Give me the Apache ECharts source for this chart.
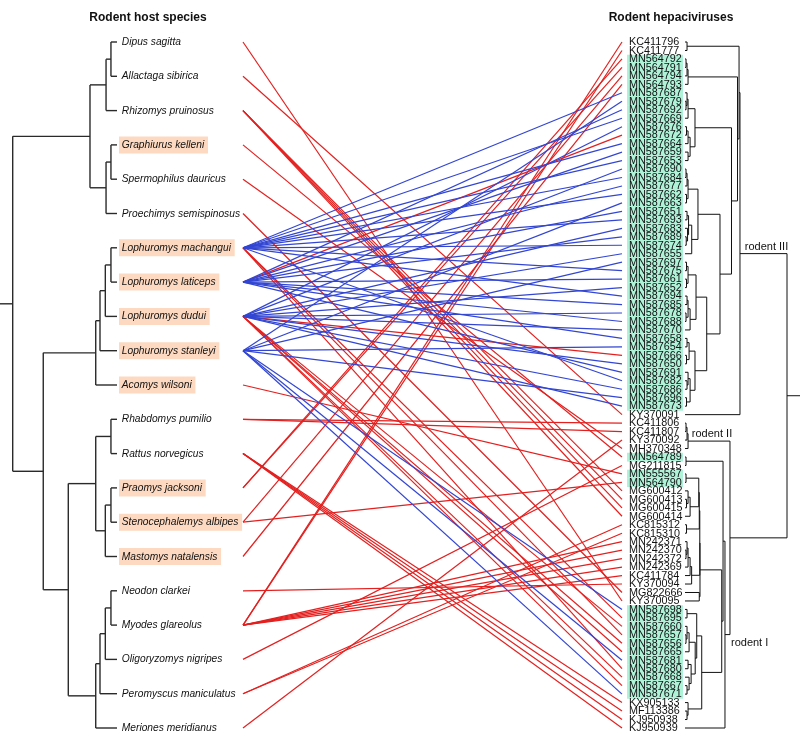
<!DOCTYPE html>
<html><head><meta charset="utf-8">
<script src="https://cdn.jsdelivr.net/npm/echarts@6/dist/echarts.min.js"></script>
<style>html,body{margin:0;padding:0;background:#fff}#c{width:800px;height:736px}</style>
</head><body><div id="c"></div>
<script>
// ---------------- DATA ----------------
const hosts = ['Dipus sagitta','Allactaga sibirica','Rhizomys pruinosus','Graphiurus kelleni','Spermophilus dauricus',
  'Proechimys semispinosus','Lophuromys machangui','Lophuromys laticeps','Lophuromys dudui','Lophuromys stanleyi',
  'Acomys wilsoni','Rhabdomys pumilio','Rattus norvegicus','Praomys jacksoni','Stenocephalemys albipes',
  'Mastomys natalensis','Neodon clarkei','Myodes glareolus','Oligoryzomys nigripes','Peromyscus maniculatus','Meriones meridianus'];
const hostHighlight = ['Graphiurus kelleni','Lophuromys machangui','Lophuromys laticeps','Lophuromys dudui',
  'Lophuromys stanleyi','Acomys wilsoni','Praomys jacksoni','Stenocephalemys albipes','Mastomys natalensis'];

const viruses = ['KC411796','KC411777','MN564792','MN564791','MN564794','MN564793','MN587687','MN587679','MN587692','MN587669',
  'MN587676','MN587672','MN587664','MN587659','MN587653','MN587690','MN587684','MN587677','MN587662','MN587663',
  'MN587651','MN587693','MN587683','MN587689','MN587674','MN587655','MN587697','MN587675','MN587661','MN587652',
  'MN587694','MN587685','MN587678','MN587688','MN587670','MN587658','MN587654','MN587666','MN587650','MN587691',
  'MN587682','MN587686','MN587696','MN587673','KY370091','KC411806','KC411807','KY370092','MH370348','MN564789',
  'MG211815','MN555567','MN564790','MG600412','MG600413','MG600415','MG600414','KC815312','KC815310','MN242371',
  'MN242370','MN242372','MN242369','KC411784','KY370094','MG822666','KY370095','MN587698','MN587695','MN587660',
  'MN587657','MN587656','MN587665','MN587681','MN587680','MN587668','MN587667','MN587671','KX905133','MF113386',
  'KJ950938','KJ950939'];
const virusHighlight = viruses.filter(v => /^MN5876|^MN5647|^MN555567/.test(v));

// host tree: [node depth (root 0, tips 1), children...]; leaves = host index
const hostTree = [0,
  [0.741, [0.895, [0.942, 0, 1], 2], [0.895, [0.942, 3, 4], 5]],
  [0.293,
    [0.796, [0.837, [0.888, [0.942, 6, 7], 8], 9], 10],
    [0.533,
      [0.796, [0.942, 11, 12], [0.888, [0.942, 13, 14], 15]],
      [0.796, [0.837, [0.888, [0.942, 16, 17], 18], 19], 20]]]];

// virus tree: [node height (tips 0, root 1), children...]; leaves = virus index
const MN5647clade = [0.03, [0.02, [0.01, 2, 3], 4], 5];
const cladeG1 = [0.098, [0.03, [0.02, 6, [0.01, 7, 8]], 9], [0.05, [0.03, [0.015, 10, 11], 12], [0.03, 13, 14]]];
const cladeG2a = [0.127, [0.03, [0.02, [0.01, 15, 16], 17], [0.015, 18, 19]],
  [0.066, [0.035, [0.02, 20, 21], [0.025, 22, [0.012, 23, 24]]], 25]];
const cladeG2b = [0.213,
  [0.108, [0.03, [0.015, 26, 27], [0.015, 28, 29]], [0.05, [0.03, [0.02, 30, 31], [0.01, 32, 33]], 34]],
  [0.098, [0.04, [0.02, 35, 36], [0.015, 37, 38]], [0.05, [0.03, 39, [0.02, 40, 41]], [0.015, 42, 43]]]];
const rodentIII = [0.539, [0.53, [0.02, 0, 1], [0.515, MN5647clade, [0.456, cladeG1, [0.343, cladeG2a, cladeG2b]]]], 44];
const rodentII = [0.03, [0.02, [0.01, 45, 46], 47], 48];
const cladeQ3 = [0.147,
  [0.145, [0.14, [0.135, [0.01, 51, 52], [0.05, [0.03, 53, [0.015, 54, 55]], 56]], [0.015, 57, 58]],
          [0.065, [0.05, [0.03, [0.02, 59, [0.01, 60, 61]], 62], 63], 64]],
  [0.14, 65, 66]];
const cladeQ4 = [0.164,
  [0.115, [0.02, 67, 68], [0.1, [0.04, [0.02, 69, [0.01, 70, 71]], 72], [0.06, [0.03, 73, 74], [0.04, 75, [0.02, 76, 77]]]]],
  [0.03, 78, [0.02, 79, 80]]];
const rodentI = [0.392, [0.373, [0.01, 49, 50], [0.36, cladeQ3, cladeQ4]], 81];
const rodentI_II = [0.441, rodentII, rodentI];
const virusTree = [1, rodentIII, rodentI_II];

// host -> virus associations
const linksRed = {
  'Dipus sagitta': ['KY370095'],
  'Allactaga sibirica': ['KY370091'],
  'Rhizomys pruinosus': ['MG600412','MG600413','MG600415','MG600414'],
  'Graphiurus kelleni': ['MN564789'],
  'Spermophilus dauricus': ['MH370348'],
  'Proechimys semispinosus': ['MG822666'],
  'Lophuromys machangui': ['MN587695','MN587657','MN587680'],
  'Lophuromys laticeps': ['MN587672'],
  'Lophuromys dudui': ['MN587666','MN587660','MN587656','MN587665','MN587668','MN587667'],
  'Acomys wilsoni': ['MN555567'],
  'Rhabdomys pumilio': ['KC411806','KC411807'],
  'Rattus norvegicus': ['KX905133','MF113386','KJ950938','KJ950939'],
  'Praomys jacksoni': ['MN564792','MN564791'],
  'Stenocephalemys albipes': ['MN564790','MN564794'],
  'Mastomys natalensis': ['MN564793'],
  'Neodon clarkei': ['KY370094'],
  'Myodes glareolus': ['KC411796','KC411777','MN242371','MN242370','MN242372','MN242369','KC411784'],
  'Oligoryzomys nigripes': ['MG211815'],
  'Peromyscus maniculatus': ['KC815312','KC815310'],
  'Meriones meridianus': ['KY370092']
};
const linksBlue = {
  'Lophuromys machangui': ['MN587687','MN587669','MN587664','MN587653','MN587684','MN587662','MN587693','MN587674','MN587675','MN587694','MN587682'],
  'Lophuromys laticeps': ['MN587692','MN587659','MN587677','MN587651','MN587689','MN587661','MN587685','MN587688','MN587658','MN587691'],
  'Lophuromys dudui': ['MN587676','MN587690','MN587683','MN587655','MN587652','MN587678','MN587670','MN587650','MN587686','MN587673'],
  'Lophuromys stanleyi': ['MN587679','MN587663','MN587697','MN587654','MN587696','MN587698','MN587681','MN587671']
};

// ---------------- LAYOUT HELPERS ----------------
const FONT = '"Liberation Sans", Arial, Helvetica, sans-serif';
const RED = '#e3201f', BLUE = '#3246d2';

function layoutTree(node, leafH, segs, pos) {
  if (typeof node === 'number') return { y: node, h: leafH };
  const kids = node.slice(1).map(c => layoutTree(c, leafH, segs, pos));
  const r = { y: (kids[0].y + kids[kids.length - 1].y) / 2, h: node[0] };
  segs.push([r.h, kids[0].y, r.h, kids[kids.length - 1].y]);
  kids.forEach(k => segs.push([r.h, k.y, k.h, k.y]));
  pos.set(node, r);
  return r;
}
const hostSegs = [], hostPos = new Map();
const hostRoot = layoutTree(hostTree, 1, hostSegs, hostPos);
const virSegs = [], virPos = new Map();
const virRoot = layoutTree(virusTree, 0, virSegs, virPos);

const nH = hosts.length - 1, nV = viruses.length - 1;
const linkData = [];
[[linksRed, 0], [linksBlue, 1]].forEach(([m, k]) => {
  Object.keys(m).forEach(h => m[h].forEach(v => {
    linkData.push([hosts.indexOf(h) / nH, viruses.indexOf(v) / nV, k]);
  }));
});

const lineItem = (a, b, color, w) => ({ type: 'line', shape: { x1: a[0], y1: a[1], x2: b[0], y2: b[1] },
  style: { stroke: color, lineWidth: w } });

const hostLabelData = hosts.map((h, i) => [1, i, hostHighlight.includes(h) ? 1 : 0]);
const virLabelData = viruses.map((v, i) => [0, i, virusHighlight.includes(v) ? 1 : 0]);

const cladeLabels = [
  { text: 'rodent III', node: rodentIII, parent: virusTree, mode: 'above' },
  { text: 'rodent II', node: rodentII, parent: rodentI_II, mode: 'above' },
  { text: 'rodent I', node: rodentI, parent: rodentI_II, mode: 'below' }
];
const cladeLabelData = cladeLabels.map((c, i) => {
  const p = virPos.get(c.node), q = virPos.get(c.parent);
  return [p.h, p.y, q.h, i];
});

// ---------------- CHART ----------------
const chart = echarts.init(document.getElementById('c'));
const TOP = 42, HEIGHT = 686;
const hideAx = { show: false, splitLine: { show: false } };
chart.setOption({
  animation: false,
  backgroundColor: '#fff',
  grid: [
    { left: 12.7, width: 104.3, top: TOP, height: HEIGHT },
    { left: 243, width: 379, top: TOP, height: HEIGHT },
    { left: 685, width: 102, top: TOP, height: HEIGHT },
    { left: 627, width: 56, top: TOP, height: HEIGHT }
  ],
  xAxis: [0, 1, 2, 3].map(i => Object.assign({ type: 'value', gridIndex: i, min: 0, max: 1 }, hideAx)),
  yAxis: [
    Object.assign({ type: 'value', gridIndex: 0, min: 0, max: nH, inverse: true }, hideAx),
    Object.assign({ type: 'value', gridIndex: 1, min: 0, max: 1, inverse: true }, hideAx),
    Object.assign({ type: 'value', gridIndex: 2, min: 0, max: nV, inverse: true }, hideAx),
    Object.assign({ type: 'value', gridIndex: 3, min: 0, max: nV, inverse: true }, hideAx)
  ],
  graphic: [
    { type: 'text', x: 148, y: 18, style: { text: 'Rodent host species', font: 'bold 12px ' + FONT, fill: '#111', align: 'center', verticalAlign: 'middle' } },
    { type: 'text', x: 671, y: 18, style: { text: 'Rodent hepaciviruses', font: 'bold 12px ' + FONT, fill: '#111', align: 'center', verticalAlign: 'middle' } }
  ],
  series: [
    { // links
      type: 'custom', xAxisIndex: 1, yAxisIndex: 1, silent: true, z: 1, data: linkData,
      renderItem: (p, api) => lineItem(api.coord([0, api.value(0)]), api.coord([1, api.value(1)]),
        api.value(2) ? BLUE : RED, 1.2)
    },
    { // host tree
      type: 'custom', xAxisIndex: 0, yAxisIndex: 0, silent: true, z: 3, data: hostSegs,
      renderItem: (p, api) => lineItem(api.coord([api.value(0), api.value(1)]), api.coord([api.value(2), api.value(3)]), '#2a2a2a', 1.4)
    },
    { // host root stub
      type: 'custom', xAxisIndex: 0, yAxisIndex: 0, silent: true, z: 3, data: [[hostRoot.h, hostRoot.y]],
      renderItem: (p, api) => { const a = api.coord([api.value(0), api.value(1)]); return lineItem([a[0] - 13, a[1]], a, '#2a2a2a', 1.4); }
    },
    { // host labels
      type: 'custom', xAxisIndex: 0, yAxisIndex: 0, silent: true, z: 4, data: hostLabelData,
      renderItem: (p, api) => {
        const a = api.coord([api.value(0), api.value(1)]);
        const hl = api.value(2) === 1;
        return { type: 'text', x: a[0] + 2, y: a[1], scaleX: 0.93, style: {
          text: hosts[p.dataIndex], font: 'italic 11px ' + FONT, fill: '#111', align: 'left', verticalAlign: 'middle',
          backgroundColor: hl ? '#fcd9c0' : null, padding: [3, 4, 3, 3] } };
      }
    },
    { // virus tree
      type: 'custom', xAxisIndex: 2, yAxisIndex: 2, silent: true, z: 3, data: virSegs,
      renderItem: (p, api) => lineItem(api.coord([api.value(0), api.value(1)]), api.coord([api.value(2), api.value(3)]), '#111', 1)
    },
    { // virus root stub
      type: 'custom', xAxisIndex: 2, yAxisIndex: 2, silent: true, z: 3, data: [[virRoot.h, virRoot.y]],
      renderItem: (p, api) => { const a = api.coord([api.value(0), api.value(1)]); return lineItem(a, [a[0] + 13, a[1]], '#111', 1); }
    },
    { // clade labels
      type: 'custom', xAxisIndex: 2, yAxisIndex: 2, silent: true, z: 4, data: cladeLabelData,
      renderItem: (p, api) => {
        const a = api.coord([api.value(0), api.value(1)]);
        const b = api.coord([api.value(2), api.value(1)]);
        const c = cladeLabels[api.value(3)];
        const above = c.mode === 'above';
        return { type: 'text', x: above ? (a[0] + b[0]) / 2 + 3 : b[0] + 1, y: above ? a[1] - 7 : a[1] + 8,
          style: { text: c.text, font: '11px ' + FONT, fill: '#111', align: above ? 'center' : 'left', verticalAlign: 'middle' } };
      }
    },
    { // virus labels
      type: 'custom', xAxisIndex: 3, yAxisIndex: 3, silent: true, z: 2, data: virLabelData,
      renderItem: (p, api) => {
        const j = api.value(1);
        const a = api.coord([0, j - 0.5]), b = api.coord([1, j + 0.5]);
        const t = api.coord([0, j]);
        const children = [];
        if (api.value(2) === 1) children.push({ type: 'rect', shape: { x: a[0], y: a[1], width: b[0] - a[0], height: b[1] - a[1] + 0.3 }, style: { fill: '#aef2d8' } });
        children.push({ type: 'text', x: t[0] + 2, y: t[1] + 0.5, scaleX: 1.06, style: { text: viruses[p.dataIndex], font: '10.2px ' + FONT, fill: '#111', align: 'left', verticalAlign: 'middle' } });
        return { type: 'group', children };
      }
    }
  ]
});
</script></body></html>
